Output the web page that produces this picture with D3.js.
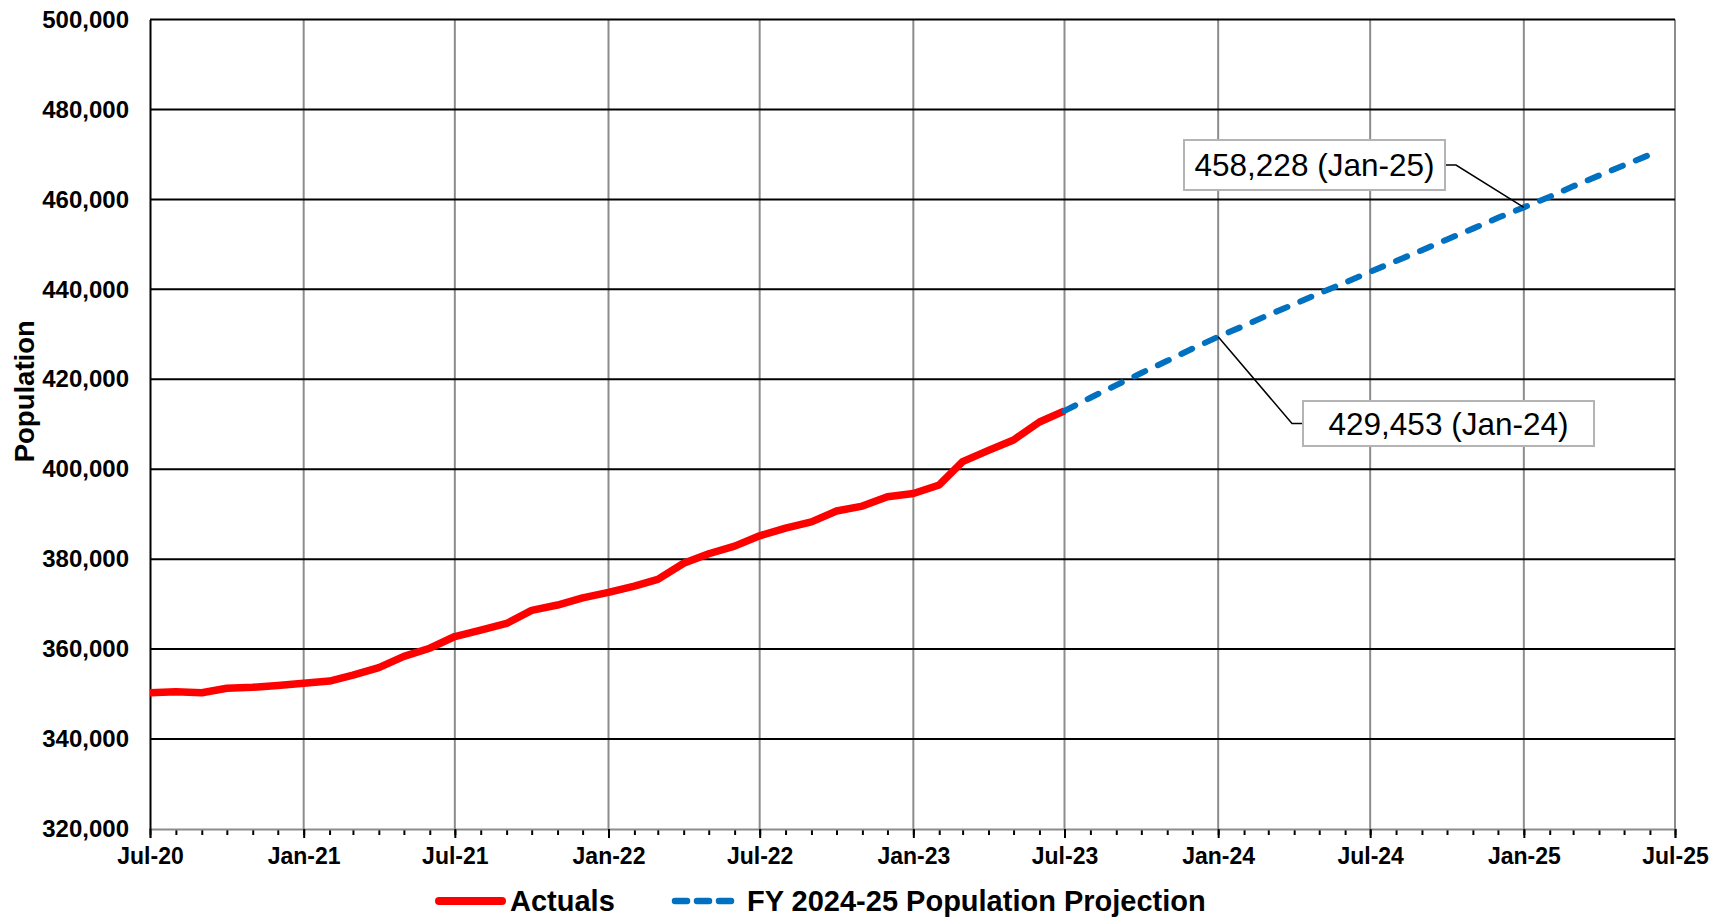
<!DOCTYPE html>
<html>
<head>
<meta charset="utf-8">
<script src="https://cdn.jsdelivr.net/npm/d3@7"></script>
<style>
  html, body { margin: 0; padding: 0; background: #fff; }
  svg { display: block; font-family: "Liberation Sans", Arial, Helvetica, sans-serif; }
</style>
</head>
<body>
<svg id="chart" width="1728" height="919"></svg>
<script>
// ---- Data ---------------------------------------------------------------
const actualMonths = [
  "Jul-20","Aug-20","Sep-20","Oct-20","Nov-20","Dec-20",
  "Jan-21","Feb-21","Mar-21","Apr-21","May-21","Jun-21",
  "Jul-21","Aug-21","Sep-21","Oct-21","Nov-21","Dec-21",
  "Jan-22","Feb-22","Mar-22","Apr-22","May-22","Jun-22",
  "Jul-22","Aug-22","Sep-22","Oct-22","Nov-22","Dec-22",
  "Jan-23","Feb-23","Mar-23","Apr-23","May-23","Jun-23",
  "Jul-23"
];
const actualValues = [
  350300, 350500, 350300, 351300, 351500, 351900,
  352400, 352900, 354200, 355900, 358400, 360200,
  362800, 364200, 365700, 368600, 369800, 371400,
  372600, 374000, 375500, 379100, 381200, 382900,
  385200, 386900, 388300, 390700, 391800, 393900,
  394600, 396500, 401700, 404200, 406500, 410500,
  412960
];

const projectionMonths = [
  "Jul-23","Aug-23","Sep-23","Oct-23","Nov-23","Dec-23",
  "Jan-24","Feb-24","Mar-24","Apr-24","May-24","Jun-24",
  "Jul-24","Aug-24","Sep-24","Oct-24","Nov-24","Dec-24",
  "Jan-25","Feb-25","Mar-25","Apr-25","May-25","Jun-25"
];
const projectionValues = [
  412960, 415900, 418700, 421400, 424100, 426800,
  429453, 431900, 434300, 436700, 439100, 441500,
  443900, 446300, 448700, 451100, 453500, 455900,
  458228, 460600, 462900, 465300, 467600, 469950
];

const xTickLabels = ["Jul-20","Jan-21","Jul-21","Jan-22","Jul-22","Jan-23",
                     "Jul-23","Jan-24","Jul-24","Jan-25","Jul-25"];
const yTickValues = [320000, 340000, 360000, 380000, 400000,
                     420000, 440000, 460000, 480000, 500000];
const calloutMonths = ["Jan-25", "Jan-24"];
const seriesNames = ["Actuals", "FY 2024-25 Population Projection"];
const yAxisTitle = "Population";

// ---- Layout -------------------------------------------------------------
const plot = { left: 150, right: 1675, top: 19.5, bottom: 829 };
const colors = { actual: "#ff0000", projection: "#0070c0", hgrid: "#000", vgrid: "#8c8c8c" };

// callout boxes: box rectangle plus the elbow of the leader line
const calloutLayout = {
  "Jan-25": { x: 1184, y: 140, w: 261, h: 50, side: "right", elbow: 1456 },
  "Jan-24": { x: 1303, y: 401, w: 291, h: 45, side: "left",  elbow: 1292 }
};

const parse = d3.timeParse("%b-%y");
const fmt = d3.format(",");

const svg = d3.select("#chart");

const x = d3.scaleTime()
  .domain([parse(xTickLabels[0]), parse(xTickLabels[xTickLabels.length - 1])])
  .range([plot.left, plot.right]);
const y = d3.scaleLinear()
  .domain([yTickValues[0], yTickValues[yTickValues.length - 1]])
  .range([plot.bottom, plot.top]);

const actual = actualMonths.map((m, i) => ({ date: parse(m), value: actualValues[i] }));
const projection = projectionMonths.map((m, i) => ({ month: m, date: parse(m), value: projectionValues[i] }));

// ---- Grid ---------------------------------------------------------------
const xTickDates = xTickLabels.map(parse);

svg.append("g")
  .selectAll("line")
  .data(xTickDates.slice(1))
  .join("line")
  .attr("x1", d => x(d)).attr("x2", d => x(d))
  .attr("y1", plot.top).attr("y2", plot.bottom)
  .attr("stroke", colors.vgrid).attr("stroke-width", 2);

svg.append("g")
  .selectAll("line")
  .data(yTickValues.slice(1))
  .join("line")
  .attr("x1", plot.left).attr("x2", plot.right)
  .attr("y1", d => y(d)).attr("y2", d => y(d))
  .attr("stroke", colors.hgrid).attr("stroke-width", 2);

// ---- Axes ---------------------------------------------------------------
// bottom axis: grey line, monthly minor ticks, half-year major ticks
const xAxisMinor = d3.axisBottom(x)
  .tickValues(d3.timeMonth.range(x.domain()[0], d3.timeMonth.offset(x.domain()[1], 1)))
  .tickSize(6).tickFormat("");
const gMinor = svg.append("g").attr("transform", `translate(0,${plot.bottom})`).call(xAxisMinor);
gMinor.select(".domain").remove();
gMinor.selectAll(".tick line").attr("stroke", "#000").attr("stroke-width", 2);

const xAxis = d3.axisBottom(x)
  .tickValues(xTickDates)
  .tickSize(9)
  .tickPadding(10)
  .tickFormat((d, i) => xTickLabels[i]);
const gx = svg.append("g").attr("transform", `translate(0,${plot.bottom})`).call(xAxis);
gx.select(".domain").attr("stroke", colors.vgrid).attr("stroke-width", 2);
gx.selectAll(".tick line").attr("stroke", "#000").attr("stroke-width", 2);
gx.selectAll(".tick text")
  .attr("fill", "#000")
  .style("font-size", "23px")
  .style("font-weight", "bold");

const yAxis = d3.axisLeft(y)
  .tickValues(yTickValues)
  .tickSize(0)
  .tickPadding(21)
  .tickFormat(fmt);
const gy = svg.append("g").attr("transform", `translate(${plot.left},0)`).call(yAxis);
gy.select(".domain").attr("stroke", "#000").attr("stroke-width", 2);
gy.selectAll(".tick text")
  .attr("fill", "#000")
  .style("font-size", "24px")
  .style("font-weight", "bold");

svg.append("text")
  .attr("transform", `translate(24,${(plot.top + plot.bottom) / 2 - 33}) rotate(-90)`)
  .attr("text-anchor", "middle")
  .attr("dy", "0.35em")
  .style("font-size", "27.5px")
  .style("font-weight", "bold")
  .text(yAxisTitle);

// ---- Series -------------------------------------------------------------
const line = d3.line().x(d => x(d.date)).y(d => y(d.value));

svg.append("path")
  .datum(actual)
  .attr("d", line)
  .attr("fill", "none")
  .attr("stroke", colors.actual)
  .attr("stroke-width", 7.5)
  .attr("stroke-linejoin", "round")
  .attr("stroke-linecap", "butt");

svg.append("path")
  .datum(projection)
  .attr("d", line)
  .attr("fill", "none")
  .attr("stroke", colors.projection)
  .attr("stroke-width", 6)
  .attr("stroke-linecap", "round")
  .attr("stroke-dasharray", "12,14");

// ---- Callouts -----------------------------------------------------------
calloutMonths.forEach(m => {
  const p = projection.find(d => d.month === m);
  const b = calloutLayout[m];
  const px = x(p.date), py = y(p.value);
  const cy = b.y + b.h / 2;
  const edge = b.side === "right" ? b.x + b.w : b.x;

  svg.append("polyline")
    .attr("points", `${edge},${cy} ${b.elbow},${cy} ${px},${py}`)
    .attr("fill", "none")
    .attr("stroke", "#000")
    .attr("stroke-width", 1.5);

  svg.append("rect")
    .attr("x", b.x).attr("y", b.y)
    .attr("width", b.w).attr("height", b.h)
    .attr("fill", "#fff")
    .attr("stroke", "#b4b4b4")
    .attr("stroke-width", 2);

  svg.append("text")
    .attr("x", b.x + b.w / 2)
    .attr("y", cy)
    .attr("dy", "0.36em")
    .attr("text-anchor", "middle")
    .style("font-size", "31.5px")
    .attr("fill", "#000")
    .text(`${fmt(p.value)} (${m})`);
});

// ---- Legend -------------------------------------------------------------
const legendY = 901;
const legend = svg.append("g");
legend.append("line")
  .attr("x1", 439).attr("x2", 502)
  .attr("y1", legendY).attr("y2", legendY)
  .attr("stroke", colors.actual).attr("stroke-width", 8)
  .attr("stroke-linecap", "round");
legend.append("text")
  .attr("x", 510).attr("y", legendY).attr("dy", "0.35em")
  .style("font-size", "29px").style("font-weight", "bold")
  .text(seriesNames[0]);

legend.append("line")
  .attr("x1", 675).attr("x2", 731)
  .attr("y1", legendY).attr("y2", legendY)
  .attr("stroke", colors.projection).attr("stroke-width", 6.5)
  .attr("stroke-linecap", "round")
  .attr("stroke-dasharray", "12,10");
legend.append("text")
  .attr("x", 747).attr("y", legendY).attr("dy", "0.35em")
  .style("font-size", "29px").style("font-weight", "bold")
  .text(seriesNames[1]);
</script>
</body>
</html>
